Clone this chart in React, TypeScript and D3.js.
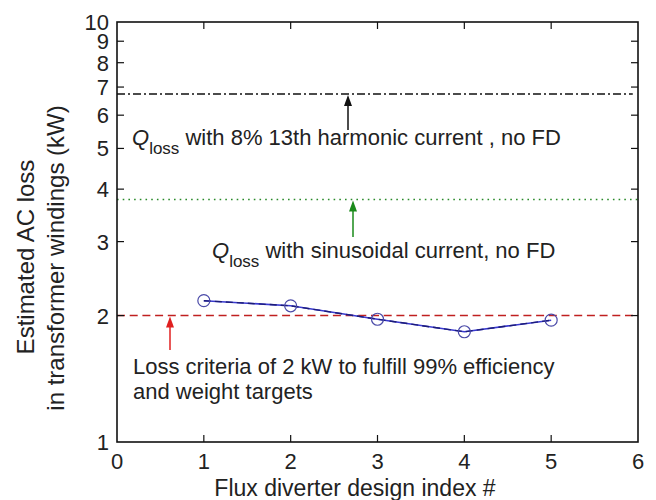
import React from 'react'
import * as d3 from 'd3'

// design index vs estimated loss (kW)
const designIndex = [1, 2, 3, 4, 5]
const estimatedLoss = [2.17, 2.11, 1.96, 1.83, 1.95]

const harmonicLoss = 6.74
const sinusoidalLoss = 3.78
const lossCriteria = 2

const xTicks = [0, 1, 2, 3, 4, 5, 6]
const yTickLabels = [1, 2, 3, 4, 5, 6, 7, 8, 9, 10]

const width = 656
const height = 500
const margin = { top: 22, right: 18, bottom: 58, left: 117 }

const font = 'Arial, "Liberation Sans", sans-serif'
const textColor = '#222'

function Arrow({ x, y1, y2, color }: { x: number; y1: number; y2: number; color: string }) {
  // y1 = tail (bottom), y2 = tip (top)
  return (
    <g>
      <line x1={x} x2={x} y1={y1} y2={y2 + 8} stroke={color} strokeWidth={1.5} />
      <path d={`M${x},${y2} L${x - 4},${y2 + 11} L${x + 4},${y2 + 11} Z`} fill={color} />
    </g>
  )
}

export default function App() {
  const xScale = d3.scaleLinear().domain([0, 6]).range([margin.left, width - margin.right])
  const yScale = d3.scaleLog().domain([1, 10]).range([height - margin.bottom, margin.top])

  const x0 = xScale(0)
  const x1 = xScale(6)
  const yTop = yScale(10)
  const yBot = yScale(1)

  const line = d3.line<number>()
    .x((d, i) => xScale(designIndex[i]))
    .y(d => yScale(d))
  const pathData = line(estimatedLoss) || ''

  const tickLen = 7
  const minor = yTickLabels.filter(v => v > 1 && v < 10)

  return (
    <svg width={width} height={height} style={{ position: 'absolute', left: 0, top: 0, background: '#fff' }}
      fontFamily={font}>
      {/* reference lines */}
      <line x1={x0} x2={xScale(5.94)} y1={yScale(harmonicLoss)} y2={yScale(harmonicLoss)}
        stroke="#111" strokeWidth={1.4} strokeDasharray="8 3 2 3" />
      <line x1={x0} x2={x1} y1={yScale(sinusoidalLoss)} y2={yScale(sinusoidalLoss)}
        stroke="#2a8a2a" strokeWidth={1.6} strokeDasharray="1.6 4.1" />
      <line x1={x0} x2={x1} y1={yScale(lossCriteria)} y2={yScale(lossCriteria)}
        stroke="#c02020" strokeWidth={1.6} strokeDasharray="8 4.7" />

      {/* data */}
      <path d={pathData} fill="none" stroke="#3a3ad0" strokeWidth={1.6} />
      <path d={pathData} fill="none" stroke="#1c1c78" strokeWidth={1.4} strokeDasharray="7 4" />
      {estimatedLoss.map((v, i) => (
        <circle key={i} cx={xScale(designIndex[i])} cy={yScale(v)} r={6}
          fill="none" stroke="#4a4aa8" strokeWidth={1.2} />
      ))}

      {/* frame */}
      <rect x={x0} y={yTop} width={x1 - x0} height={yBot - yTop} fill="none" stroke="#111" strokeWidth={1.6} />

      {/* x ticks */}
      {xTicks.map(t => (
        <g key={'x' + t}>
          {t > 0 && t < 6 && (
            <>
              <line x1={xScale(t)} x2={xScale(t)} y1={yBot} y2={yBot - tickLen} stroke="#111" strokeWidth={1.2} />
              <line x1={xScale(t)} x2={xScale(t)} y1={yTop} y2={yTop + tickLen} stroke="#111" strokeWidth={1.2} />
            </>
          )}
          <text x={xScale(t)} y={469} textAnchor="middle" fontSize={22} fill={textColor}>{t}</text>
        </g>
      ))}

      {/* y ticks */}
      {minor.map(v => (
        <g key={'y' + v}>
          <line x1={x0} x2={x0 + tickLen} y1={yScale(v)} y2={yScale(v)} stroke="#111" strokeWidth={1.2} />
          <line x1={x1} x2={x1 - tickLen} y1={yScale(v)} y2={yScale(v)} stroke="#111" strokeWidth={1.2} />
        </g>
      ))}
      {yTickLabels.map(v => (
        <text key={'yl' + v} x={109} y={yScale(v) + 8} textAnchor="end" fontSize={22} fill={textColor}>{v}</text>
      ))}

      {/* axis titles */}
      <text x={355} y={496} textAnchor="middle" fontSize={23} fill={textColor}>Flux diverter design index #</text>
      <text transform="translate(34,257) rotate(-90)" textAnchor="middle" fontSize={24} fill={textColor}>Estimated AC loss</text>
      <text transform="translate(64,258) rotate(-90)" textAnchor="middle" fontSize={24} fill={textColor}>in transformer windings (kW)</text>

      {/* annotations */}
      <Arrow x={348} y1={130} y2={yScale(harmonicLoss) + 1} color="#111" />
      <text x={132} y={145} fontSize={22} fill={textColor}>
        <tspan fontStyle="italic">Q</tspan>
        <tspan fontSize={17} dy={9}>loss</tspan>
        <tspan dy={-9}> with 8% 13th harmonic current , no FD</tspan>
      </text>

      <Arrow x={353} y1={237} y2={yScale(sinusoidalLoss) + 1} color="#1a8a1a" />
      <text x={212} y={258} fontSize={22} fill={textColor}>
        <tspan fontStyle="italic">Q</tspan>
        <tspan fontSize={17} dy={9}>loss</tspan>
        <tspan dy={-9}> with sinusoidal current, no FD</tspan>
      </text>

      <Arrow x={170} y1={350} y2={yScale(lossCriteria) + 1} color="#e02020" />
      <text x={133} y={374} fontSize={22} fill={textColor}>Loss criteria of 2 kW to fulfill 99% efficiency</text>
      <text x={133} y={399} fontSize={22} fill={textColor}>and weight targets</text>
    </svg>
  )
}
